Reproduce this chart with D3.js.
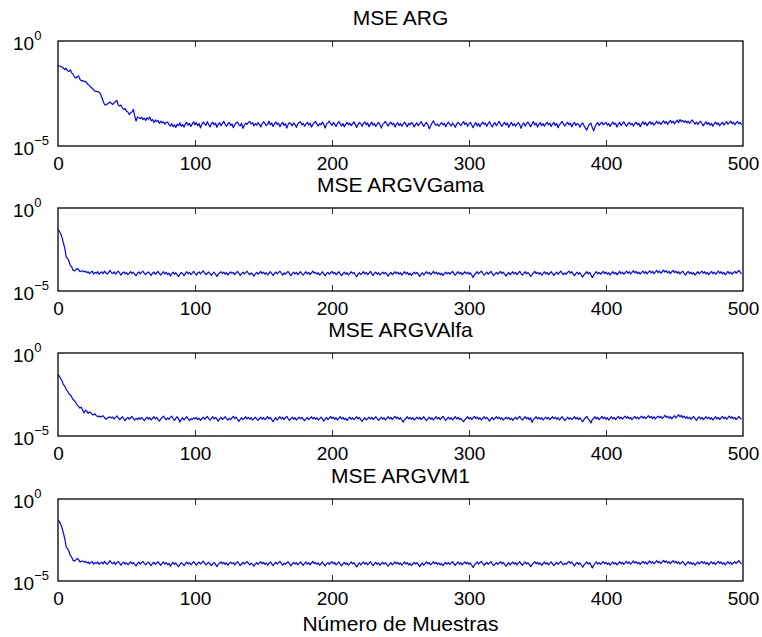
<!DOCTYPE html>
<html>
<head>
<meta charset="utf-8">
<script src="https://cdn.jsdelivr.net/npm/d3@7"></script>
<style>
  body { margin: 0; background: #fff; }
  svg { display: block; }
  text { font-family: "Liberation Sans", Arial, Helvetica, sans-serif; fill: #000; }
</style>
</head>
<body>
<svg id="chart" width="762" height="637"></svg>
<script>
// log10 of the mean squared error at each sample (0..499), one array per algorithm
const logMseARG = [
  -1.18, -1.19, -1.21, -1.24, -1.30, -1.36, -1.30, -1.42, -1.45, -1.37, -1.52, -1.58, -1.70, -1.76, -1.70, -1.66, -1.82, -1.90, -1.88, -1.93,
  -1.92, -2.00, -2.07, -2.12, -2.20, -2.26, -2.33, -2.39, -2.40, -2.41, -2.44, -2.52, -2.68, -2.88, -3.03, -3.05, -3.00, -2.95, -2.90, -2.98,
  -3.02, -2.95, -2.88, -2.83, -3.05, -3.10, -3.05, -3.18, -3.26, -3.22, -3.34, -3.38, -3.50, -3.42, -3.38, -3.26, -3.57, -3.81, -3.62, -3.66,
  -3.70, -3.62, -3.74, -3.68, -3.78, -3.66, -3.72, -3.62, -3.80, -3.74, -3.88, -3.76, -3.84, -3.78, -3.92, -3.82, -3.90, -3.85, -3.96, -3.88,
  -3.86, -3.97, -4.05, -3.93, -4.08, -3.99, -4.12, -3.96, -4.03, -3.90, -4.06, -3.98, -4.10, -3.94, -3.88, -4.01, -3.92, -4.07, -3.96, -3.85,
  -3.99, -3.89, -4.04, -3.93, -4.14, -3.97, -3.86, -3.95, -4.02, -3.84, -3.98, -4.09, -3.93, -3.87, -4.00, -3.91, -4.11, -3.96, -3.89, -4.03,
  -3.92, -3.83, -3.97, -4.06, -3.94, -3.88, -4.02, -3.95, -4.13, -3.99, -3.90, -3.86, -3.98, -4.04, -3.92, -4.16, -4.01, -3.91, -3.97, -3.87,
  -3.83, -3.95, -3.89, -4.05, -3.93, -4.01, -3.88, -3.97, -4.09, -3.94, -3.85, -3.92, -4.03, -3.96, -3.82, -3.99, -3.90, -4.07, -3.95, -3.86,
  -3.98, -3.91, -4.08, -3.96, -3.87, -4.02, -3.93, -4.15, -3.97, -3.89, -3.94, -4.04, -3.90, -3.98, -4.11, -3.95, -3.88, -3.84, -3.99, -3.92,
  -4.06, -3.95, -3.87, -4.00, -3.91, -4.10, -3.97, -3.89, -3.83, -3.96, -4.05, -3.93, -3.99, -3.86, -3.97, -4.14, -3.96, -3.90, -3.81, -3.94,
  -4.02, -3.88, -3.96, -4.07, -3.92, -3.84, -3.95, -4.05, -3.93, -4.09, -3.97, -3.87, -3.99, -3.91, -4.03, -3.95, -3.85, -3.97, -4.12, -3.98,
  -3.89, -3.94, -4.06, -3.92, -3.85, -3.99, -3.90, -4.08, -3.96, -3.86, -4.01, -3.93, -4.07, -3.95, -3.88, -3.98, -4.15, -3.97, -3.91, -3.83,
  -3.95, -4.05, -3.93, -3.87, -3.99, -3.91, -4.10, -3.96, -3.89, -4.02, -3.93, -4.06, -3.95, -3.86, -3.97, -4.08, -3.92, -3.99, -3.88, -3.94,
  -4.09, -3.97, -3.90, -4.03, -3.94, -3.84, -3.96, -4.07, -3.95, -3.88, -4.00, -4.18, -4.04, -3.91, -3.80, -3.93, -4.02, -3.95, -4.06, -3.97,
  -3.88, -3.99, -3.92, -4.08, -3.95, -3.86, -3.97, -4.05, -3.91, -3.99, -4.11, -3.96, -3.88, -3.94, -4.03, -3.93, -3.84, -3.97, -3.90, -4.06,
  -3.95, -3.87, -4.00, -4.13, -3.97, -3.89, -4.04, -3.93, -4.08, -3.95, -3.86, -3.97, -3.91, -4.06, -3.93, -3.84, -3.99, -4.09, -3.95, -3.89,
  -4.03, -3.93, -3.83, -3.97, -4.07, -3.95, -3.88, -4.00, -3.91, -4.11, -3.97, -3.87, -4.03, -3.94, -4.06, -3.96, -3.89, -3.99, -4.16, -3.97,
  -3.90, -4.05, -3.94, -3.86, -3.97, -4.08, -3.95, -3.84, -4.00, -3.91, -4.10, -3.97, -3.89, -4.03, -3.93, -4.06, -3.95, -3.87, -3.99, -3.91,
  -4.07, -3.95, -3.88, -4.02, -3.93, -4.13, -3.99, -3.91, -3.83, -3.96, -4.05, -3.94, -3.87, -3.99, -3.91, -4.09, -3.95, -3.88, -4.02, -3.93,
  -3.98, -4.10, -3.96, -3.90, -4.04, -4.15, -4.24, -4.06, -3.96, -3.91, -4.12, -4.28, -4.08, -3.95, -3.89, -4.02, -3.94, -3.86, -3.99, -3.93,
  -3.88, -4.01, -3.93, -4.07, -3.95, -3.86, -3.98, -3.91, -4.10, -3.96, -3.88, -4.03, -3.93, -3.85, -3.97, -4.06, -3.94, -3.88, -3.99, -3.92,
  -4.05, -3.94, -3.87, -3.99, -3.91, -4.08, -3.95, -3.85, -3.97, -3.89, -4.03, -3.92, -3.84, -3.96, -3.88, -4.01, -3.92, -3.82, -3.94, -3.86,
  -3.98, -3.88, -3.80, -3.92, -3.84, -3.97, -3.86, -3.78, -3.90, -3.82, -3.95, -3.85, -3.77, -3.89, -3.74, -3.84, -3.78, -3.87, -3.80, -3.90,
  -3.81, -3.92, -3.84, -3.76, -3.88, -3.96, -3.86, -3.98, -3.89, -3.82, -3.93, -4.04, -3.92, -3.85, -3.97, -3.89, -4.01, -3.92, -4.06, -3.95,
  -3.86, -3.98, -3.90, -4.03, -3.94, -3.87, -4.00, -3.92, -3.84, -3.96, -3.90, -3.81, -3.94, -3.87, -3.99, -3.90, -3.83, -3.94, -3.88, -4.00
];

const logMseARGVGama = [
  -1.32, -1.40, -1.55, -1.80, -2.12, -2.45, -2.95, -3.04, -3.20, -3.45, -3.55, -3.75, -3.79, -3.72, -3.64, -3.70, -3.84, -3.80, -3.78, -3.85,
  -3.80, -3.90, -3.84, -3.95, -3.86, -3.82, -3.97, -3.88, -3.93, -3.84, -3.99, -3.90, -3.85, -3.96, -3.80, -3.92, -3.98, -3.86, -3.76, -3.90,
  -3.95, -3.84, -3.99, -3.88, -3.80, -3.93, -4.04, -3.91, -3.85, -3.97, -3.89, -4.01, -3.93, -3.83, -3.95, -3.87, -3.99, -4.08, -3.93, -3.85,
  -3.97, -3.88, -3.81, -3.93, -4.02, -3.91, -3.85, -3.95, -4.06, -3.93, -3.86, -3.99, -3.90, -3.82, -3.95, -4.04, -3.92, -3.84, -3.97, -3.88,
  -4.01, -3.92, -4.10, -3.96, -3.86, -3.99, -3.90, -4.03, -4.13, -3.98, -3.88, -3.96, -4.07, -3.94, -3.84, -3.96, -3.88, -4.01, -3.92, -3.82,
  -3.93, -4.04, -3.91, -3.85, -3.97, -3.88, -3.79, -3.91, -4.02, -3.93, -3.86, -3.96, -4.06, -3.94, -3.87, -3.99, -4.12, -3.98, -3.90, -3.84,
  -3.95, -3.86, -3.99, -3.90, -4.04, -3.93, -3.85, -3.94, -3.88, -4.02, -3.91, -3.82, -3.93, -4.06, -3.95, -3.86, -3.97, -3.89, -3.81, -3.93,
  -4.02, -3.91, -3.99, -4.10, -3.97, -3.88, -3.99, -3.90, -3.82, -3.95, -3.86, -3.99, -3.90, -4.04, -3.93, -3.84, -3.95, -4.06, -3.93, -3.86,
  -3.97, -3.88, -3.80, -3.93, -4.04, -3.91, -3.99, -3.89, -3.83, -3.95, -4.08, -3.95, -3.86, -3.97, -3.88, -4.02, -3.93, -3.84, -3.95, -4.04,
  -3.93, -3.84, -3.97, -3.88, -4.02, -3.91, -3.80, -3.93, -3.87, -3.99, -3.90, -4.04, -3.95, -3.84, -3.97, -4.08, -3.95, -3.88, -3.99, -3.90,
  -3.82, -3.95, -3.88, -4.02, -3.93, -3.84, -3.97, -4.08, -3.95, -3.86, -3.99, -3.90, -4.04, -3.93, -3.84, -3.95, -3.88, -4.02, -4.14, -3.99,
  -3.90, -4.01, -3.93, -3.84, -3.97, -3.88, -4.02, -3.93, -3.82, -3.95, -4.06, -3.93, -3.86, -3.99, -3.90, -4.04, -3.95, -3.86, -3.97, -3.88,
  -3.99, -4.10, -3.97, -3.88, -4.02, -3.93, -3.84, -3.95, -3.86, -3.99, -3.90, -4.04, -3.93, -3.84, -3.97, -3.88, -4.02, -3.93, -4.06, -3.95,
  -3.86, -3.97, -3.88, -3.99, -4.12, -3.99, -3.90, -4.04, -3.93, -3.84, -3.95, -3.88, -4.02, -3.93, -3.82, -3.95, -3.86, -3.99, -3.90, -4.02,
  -3.93, -4.06, -3.95, -3.86, -3.97, -3.88, -3.99, -3.90, -3.82, -3.95, -4.04, -3.93, -3.84, -3.97, -3.88, -4.02, -3.93, -3.84, -3.95, -3.86,
  -3.99, -3.90, -4.04, -4.18, -4.02, -3.93, -3.84, -3.97, -3.88, -3.80, -3.93, -4.04, -3.95, -3.86, -3.99, -3.90, -3.82, -3.95, -4.06, -3.97,
  -3.88, -3.99, -3.90, -3.82, -3.95, -3.86, -3.99, -4.10, -3.97, -3.88, -4.02, -3.93, -3.84, -3.97, -3.88, -4.02, -3.91, -3.82, -3.95, -4.04,
  -3.93, -3.84, -3.97, -3.88, -3.99, -4.12, -4.02, -3.91, -3.82, -3.95, -3.86, -3.99, -3.90, -4.04, -3.95, -3.84, -3.97, -3.88, -4.02, -3.93,
  -3.84, -3.95, -4.06, -3.95, -3.86, -3.99, -3.90, -3.80, -3.93, -4.02, -3.91, -3.99, -3.88, -3.80, -3.93, -3.84, -3.97, -4.08, -3.95, -3.86,
  -3.99, -3.90, -4.04, -4.16, -4.02, -3.93, -3.84, -3.97, -3.88, -4.02, -4.20, -4.04, -3.93, -3.84, -3.97, -3.88, -3.99, -3.90, -3.82, -3.95,
  -3.86, -3.99, -3.90, -4.04, -3.93, -3.84, -3.97, -3.88, -4.02, -3.93, -3.82, -3.95, -3.86, -3.99, -3.90, -3.80, -3.93, -3.84, -3.97, -3.88,
  -3.78, -3.91, -3.82, -3.95, -3.86, -3.99, -3.88, -3.80, -3.93, -3.84, -3.97, -3.86, -3.78, -3.91, -3.82, -3.95, -3.86, -3.76, -3.89, -3.80,
  -3.93, -3.84, -3.74, -3.86, -3.78, -3.91, -3.82, -3.95, -3.84, -3.76, -3.89, -3.80, -3.93, -3.84, -3.97, -3.88, -3.80, -3.93, -4.04, -3.91,
  -3.82, -3.95, -3.86, -3.99, -3.90, -4.04, -3.93, -3.84, -3.97, -3.88, -3.80, -3.93, -3.84, -3.97, -3.88, -4.02, -3.91, -3.82, -3.95, -3.86,
  -3.99, -3.90, -3.80, -3.93, -3.84, -3.97, -3.88, -4.02, -3.93, -3.82, -3.95, -3.86, -3.99, -3.90, -3.82, -3.93, -3.84, -3.76, -3.88, -3.97
];

const logMseARGVAlfa = [
  -1.30, -1.40, -1.55, -1.70, -1.91, -2.00, -2.20, -2.30, -2.45, -2.52, -2.66, -2.80, -2.88, -2.98, -3.12, -3.22, -3.32, -3.26, -3.45, -3.62,
  -3.45, -3.50, -3.64, -3.55, -3.60, -3.70, -3.73, -3.66, -3.78, -3.83, -3.80, -3.86, -3.82, -3.78, -3.90, -3.99, -3.92, -3.88, -3.85, -3.91,
  -3.86, -3.97, -3.88, -3.79, -3.91, -4.02, -3.93, -3.84, -3.97, -4.07, -3.95, -3.88, -3.99, -3.90, -3.82, -3.95, -4.04, -3.93, -4.01, -3.90,
  -3.99, -3.88, -3.97, -4.08, -3.95, -3.86, -3.99, -3.90, -4.04, -3.93, -3.84, -3.97, -3.88, -4.01, -4.10, -3.97, -3.88, -3.80, -3.93, -4.02,
  -3.91, -3.99, -3.88, -3.80, -3.95, -4.06, -3.93, -3.84, -3.97, -4.16, -3.99, -3.90, -4.04, -3.93, -3.84, -3.97, -4.08, -3.95, -4.01, -3.90,
  -3.97, -3.88, -4.01, -3.93, -4.06, -3.95, -3.86, -3.99, -3.90, -3.82, -3.95, -4.04, -3.93, -3.84, -3.97, -3.88, -3.99, -4.10, -3.97, -3.88,
  -4.01, -3.93, -3.84, -3.95, -4.04, -3.93, -4.01, -3.90, -3.82, -3.95, -3.86, -3.99, -4.12, -3.99, -3.90, -4.01, -3.93, -3.84, -3.97, -3.88,
  -3.99, -3.90, -4.04, -3.95, -3.86, -3.97, -4.06, -3.95, -3.86, -3.99, -3.90, -4.01, -3.93, -3.84, -3.97, -3.88, -4.01, -4.14, -3.99, -3.90,
  -4.04, -3.93, -3.84, -3.97, -3.88, -4.01, -3.90, -3.82, -3.95, -4.06, -3.95, -3.86, -3.99, -3.90, -4.04, -3.95, -3.86, -3.97, -3.88, -3.99,
  -4.08, -3.97, -3.88, -4.01, -3.93, -3.84, -3.97, -3.88, -3.99, -3.90, -4.04, -3.95, -3.86, -3.97, -4.10, -3.97, -3.88, -4.01, -3.93, -3.82,
  -3.95, -3.86, -3.99, -3.90, -4.04, -3.93, -3.84, -3.97, -3.88, -4.01, -3.93, -4.06, -3.95, -3.86, -3.99, -3.90, -4.01, -3.93, -3.84, -3.97,
  -3.88, -4.01, -4.12, -3.99, -3.90, -4.04, -3.95, -3.86, -3.97, -3.88, -4.01, -3.93, -3.84, -3.95, -4.06, -3.95, -3.86, -3.99, -3.90, -4.04,
  -3.93, -3.84, -3.97, -3.88, -4.01, -3.90, -3.82, -3.95, -3.86, -3.99, -3.90, -4.04, -4.16, -4.01, -3.93, -3.84, -3.97, -3.88, -3.99, -3.90,
  -4.04, -3.95, -3.86, -3.97, -3.88, -4.01, -3.93, -3.84, -3.97, -4.08, -3.95, -3.86, -3.99, -3.90, -4.04, -3.93, -3.84, -3.97, -3.88, -4.01,
  -3.90, -3.82, -3.95, -4.06, -3.95, -3.86, -3.99, -3.90, -4.04, -3.93, -3.84, -3.97, -3.88, -4.01, -3.93, -4.04, -4.14, -4.01, -3.93, -3.84,
  -3.97, -3.88, -4.01, -3.90, -3.82, -3.95, -3.86, -3.99, -3.90, -4.04, -3.93, -3.84, -3.97, -3.88, -3.99, -4.10, -3.97, -3.88, -4.01, -3.93,
  -3.84, -3.95, -3.86, -3.99, -3.90, -4.04, -3.95, -3.86, -3.97, -3.88, -4.01, -3.93, -4.06, -3.95, -3.86, -3.99, -3.90, -3.82, -3.95, -4.04,
  -3.93, -3.84, -3.97, -3.88, -4.01, -3.90, -4.18, -4.01, -3.93, -3.84, -3.97, -3.88, -3.99, -3.90, -4.04, -3.95, -3.86, -3.97, -3.88, -4.01,
  -3.93, -3.84, -3.95, -3.86, -3.99, -3.90, -4.04, -3.93, -3.84, -3.97, -4.08, -3.95, -3.86, -3.99, -3.90, -4.01, -3.93, -3.84, -3.97, -3.88,
  -4.01, -3.90, -4.04, -4.14, -3.99, -3.90, -3.82, -3.95, -4.06, -4.22, -4.01, -3.93, -3.84, -3.97, -3.88, -4.01, -3.93, -3.82, -3.95, -3.86,
  -3.99, -3.90, -4.04, -3.93, -3.84, -3.97, -3.88, -4.01, -3.90, -3.82, -3.95, -3.86, -3.99, -3.88, -3.80, -3.93, -3.84, -3.97, -3.88, -4.01,
  -3.90, -3.82, -3.95, -3.86, -3.97, -3.88, -3.80, -3.93, -3.84, -3.95, -3.86, -3.78, -3.91, -3.82, -3.95, -3.84, -3.97, -3.88, -3.80, -3.90,
  -3.82, -3.95, -3.86, -3.76, -3.88, -3.80, -3.93, -3.84, -3.97, -3.86, -3.78, -3.91, -3.82, -3.72, -3.84, -3.76, -3.89, -3.80, -3.93, -3.84,
  -3.95, -3.86, -3.99, -3.90, -3.82, -3.95, -4.06, -3.93, -3.84, -3.97, -3.88, -4.01, -3.93, -3.84, -3.95, -3.86, -3.99, -3.90, -4.04, -3.93,
  -3.84, -3.97, -3.88, -4.01, -3.90, -3.82, -3.95, -3.86, -3.99, -3.90, -3.80, -3.93, -3.84, -3.97, -3.88, -4.01, -3.93, -3.82, -3.95, -3.99
];

const logMseARGVM1 = [
  -1.28, -1.38, -1.53, -1.78, -2.10, -2.44, -2.93, -3.03, -3.20, -3.44, -3.55, -3.74, -3.78, -3.71, -3.63, -3.70, -3.83, -3.80, -3.78, -3.85,
  -3.80, -3.90, -3.84, -3.95, -3.86, -3.82, -3.97, -3.88, -3.93, -3.84, -3.99, -3.90, -3.85, -3.96, -3.80, -3.92, -3.98, -3.86, -3.76, -3.90,
  -3.95, -3.84, -3.99, -3.88, -3.80, -3.93, -4.04, -3.91, -3.85, -3.97, -3.89, -4.01, -3.93, -3.83, -3.95, -3.87, -3.99, -4.08, -3.93, -3.85,
  -3.97, -3.88, -3.81, -3.93, -4.02, -3.91, -3.85, -3.95, -4.06, -3.93, -3.86, -3.99, -3.90, -3.82, -3.95, -4.04, -3.92, -3.84, -3.97, -3.88,
  -4.01, -3.92, -4.10, -3.96, -3.86, -3.99, -3.90, -4.03, -4.13, -3.98, -3.88, -3.96, -4.07, -3.94, -3.84, -3.96, -3.88, -4.01, -3.92, -3.82,
  -3.93, -4.04, -3.91, -3.85, -3.97, -3.88, -3.79, -3.91, -4.02, -3.93, -3.86, -3.96, -4.06, -3.94, -3.87, -3.99, -4.12, -3.98, -3.90, -3.84,
  -3.95, -3.86, -3.99, -3.90, -4.04, -3.93, -3.85, -3.94, -3.88, -4.02, -3.91, -3.82, -3.93, -4.06, -3.95, -3.86, -3.97, -3.89, -3.81, -3.93,
  -4.02, -3.91, -3.99, -4.10, -3.97, -3.88, -3.99, -3.90, -3.82, -3.95, -3.86, -3.99, -3.90, -4.04, -3.93, -3.84, -3.95, -4.06, -3.93, -3.86,
  -3.97, -3.88, -3.80, -3.93, -4.04, -3.91, -3.99, -3.89, -3.83, -3.95, -4.08, -3.95, -3.86, -3.97, -3.88, -4.02, -3.93, -3.84, -3.95, -4.04,
  -3.93, -3.84, -3.97, -3.88, -4.02, -3.91, -3.80, -3.93, -3.87, -3.99, -3.90, -4.04, -3.95, -3.84, -3.97, -4.08, -3.95, -3.88, -3.99, -3.90,
  -3.82, -3.95, -3.88, -4.02, -3.93, -3.84, -3.97, -4.08, -3.95, -3.86, -3.99, -3.90, -4.04, -3.93, -3.84, -3.95, -3.88, -4.02, -4.14, -3.99,
  -3.90, -4.01, -3.93, -3.84, -3.97, -3.88, -4.02, -3.93, -3.82, -3.95, -4.06, -3.93, -3.86, -3.99, -3.90, -4.04, -3.95, -3.86, -3.97, -3.88,
  -3.99, -4.10, -3.97, -3.88, -4.02, -3.93, -3.84, -3.95, -3.86, -3.99, -3.90, -4.04, -3.93, -3.84, -3.97, -3.88, -4.02, -3.93, -4.06, -3.95,
  -3.86, -3.97, -3.88, -3.99, -4.12, -3.99, -3.90, -4.04, -3.93, -3.84, -3.95, -3.88, -4.02, -3.93, -3.82, -3.95, -3.86, -3.99, -3.90, -4.02,
  -3.93, -4.06, -3.95, -3.86, -3.97, -3.88, -3.99, -3.90, -3.82, -3.95, -4.04, -3.93, -3.84, -3.97, -3.88, -4.02, -3.93, -3.84, -3.95, -3.86,
  -3.99, -3.90, -4.04, -4.18, -4.02, -3.93, -3.84, -3.97, -3.88, -3.80, -3.93, -4.04, -3.95, -3.86, -3.99, -3.90, -3.82, -3.95, -4.06, -3.97,
  -3.88, -3.99, -3.90, -3.82, -3.95, -3.86, -3.99, -4.10, -3.97, -3.88, -4.02, -3.93, -3.84, -3.97, -3.88, -4.02, -3.91, -3.82, -3.95, -4.04,
  -3.93, -3.84, -3.97, -3.88, -3.99, -4.12, -4.02, -3.91, -3.82, -3.95, -3.86, -3.99, -3.90, -4.04, -3.95, -3.84, -3.97, -3.88, -4.02, -3.93,
  -3.84, -3.95, -4.06, -3.95, -3.86, -3.99, -3.90, -3.80, -3.93, -4.02, -3.91, -3.99, -3.88, -3.80, -3.93, -3.84, -3.97, -4.08, -3.95, -3.86,
  -3.99, -3.90, -4.04, -4.16, -4.02, -3.93, -3.84, -3.97, -3.88, -4.02, -4.20, -4.04, -3.93, -3.84, -3.97, -3.88, -3.99, -3.90, -3.82, -3.95,
  -3.86, -3.99, -3.90, -4.04, -3.93, -3.84, -3.97, -3.88, -4.02, -3.93, -3.82, -3.95, -3.86, -3.99, -3.90, -3.80, -3.93, -3.84, -3.97, -3.88,
  -3.78, -3.91, -3.82, -3.95, -3.86, -3.99, -3.88, -3.80, -3.93, -3.84, -3.97, -3.86, -3.78, -3.91, -3.82, -3.95, -3.86, -3.76, -3.89, -3.80,
  -3.93, -3.84, -3.74, -3.86, -3.78, -3.91, -3.82, -3.95, -3.84, -3.76, -3.89, -3.80, -3.93, -3.84, -3.97, -3.88, -3.80, -3.93, -4.04, -3.91,
  -3.82, -3.95, -3.86, -3.99, -3.90, -4.04, -3.93, -3.84, -3.97, -3.88, -3.80, -3.93, -3.84, -3.97, -3.88, -4.02, -3.91, -3.82, -3.95, -3.86,
  -3.99, -3.90, -3.80, -3.93, -3.84, -3.97, -3.88, -4.02, -3.93, -3.82, -3.95, -3.86, -3.99, -3.90, -3.82, -3.93, -3.84, -3.76, -3.88, -3.97
];

const panelTitles = ["MSE ARG", "MSE ARGVGama", "MSE ARGVAlfa", "MSE ARGVM1"];
const xTickValues = [0, 100, 200, 300, 400, 500];
const yTickExponents = [0, -5];
const xAxisLabel = "Número de Muestras";

const seriesList = [logMseARG, logMseARGVGama, logMseARGVAlfa, logMseARGVM1];

// Layout of the four stacked axes (pixel bounds: [top, bottom])
const plotLeft = 58, plotRight = 743;
const panelBounds = [[41, 146], [208, 291], [353, 436], [499, 581]];
const fontTick = 19, fontSup = 13, fontLabel = 21, tickLen = 6;

const svg = d3.select("#chart");
svg.append("rect").attr("width", 762).attr("height", 637).attr("fill", "#fff");

const x = d3.scaleLinear().domain([0, 500]).range([plotLeft, plotRight]);

seriesList.forEach((values, k) => {
  const [top, bottom] = panelBounds[k];
  const y = d3.scaleLog().domain([1e-5, 1]).range([bottom, top]);
  const g = svg.append("g");

  const clipId = "plot-clip-" + k;
  svg.append("clipPath").attr("id", clipId)
    .append("rect")
    .attr("x", plotLeft).attr("y", top)
    .attr("width", plotRight - plotLeft).attr("height", bottom - top);

  // MSE curve
  const line = d3.line()
    .x((d, i) => x(i))
    .y(d => y(Math.pow(10, d)));
  g.append("path")
    .datum(values)
    .attr("clip-path", `url(#${clipId})`)
    .attr("fill", "none")
    .attr("stroke", "#0000ff")
    .attr("stroke-width", 1.2)
    .attr("stroke-linejoin", "round")
    .attr("d", line);

  // inward tick marks on bottom and top edges
  const innerTicks = xTickValues.filter(t => t > 0 && t < 500);
  const bottomTicks = g.append("g")
    .attr("transform", `translate(0,${bottom})`)
    .call(d3.axisBottom(x).tickValues(innerTicks).tickSize(-tickLen).tickFormat(""));
  const topTicks = g.append("g")
    .attr("transform", `translate(0,${top})`)
    .call(d3.axisTop(x).tickValues(innerTicks).tickSize(-tickLen).tickFormat(""));
  [bottomTicks, topTicks].forEach(a => {
    a.select(".domain").remove();
    a.selectAll(".tick line").attr("stroke", "#333").attr("stroke-width", 1);
  });

  // x tick labels
  const labels = g.append("g")
    .attr("transform", `translate(0,${bottom})`)
    .call(d3.axisBottom(x).tickValues(xTickValues).tickSize(0).tickPadding(11).tickFormat(d3.format("d")));
  labels.select(".domain").remove();
  labels.attr("font-family", null).attr("font-size", null);
  labels.selectAll("text").attr("font-size", fontTick).attr("fill", "#000");

  // y tick labels as powers of ten
  yTickExponents.forEach(e => {
    const t = g.append("text")
      .attr("x", 13)
      .attr("y", y(Math.pow(10, e)) + 8.5)
      .attr("font-size", fontTick);
    t.append("tspan").text("10");
    t.append("tspan").attr("dy", -10).attr("font-size", fontSup)
      .text(e < 0 ? "\u2212" + Math.abs(e) : String(e));
  });

  // axes box
  g.append("rect")
    .attr("x", plotLeft).attr("y", top)
    .attr("width", plotRight - plotLeft).attr("height", bottom - top)
    .attr("fill", "none").attr("stroke", "#000").attr("stroke-width", 1.3);

  // title
  g.append("text")
    .attr("x", (plotLeft + plotRight) / 2)
    .attr("y", top - 16)
    .attr("text-anchor", "middle")
    .attr("font-size", fontLabel)
    .text(panelTitles[k]);
});

svg.append("text")
  .attr("x", (plotLeft + plotRight) / 2)
  .attr("y", 631)
  .attr("text-anchor", "middle")
  .attr("font-size", fontLabel)
  .text(xAxisLabel);
</script>
</body>
</html>
